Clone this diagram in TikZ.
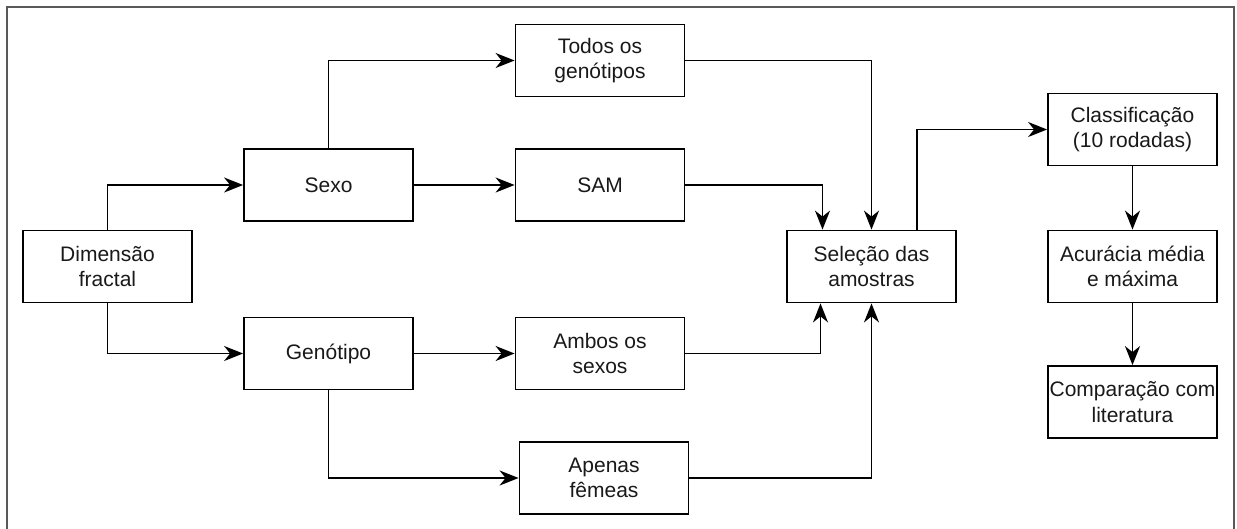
\documentclass[tikz,border=0pt]{standalone}
\usepackage{fontspec}
\setmainfont{Liberation Sans}
\usetikzlibrary{arrows.meta}
\begin{document}
\begin{tikzpicture}[x=1pt,y=-1pt,
  box/.style={draw=black, line width=1.8pt, fill=white, minimum width=169pt,
    minimum height=72pt, inner sep=1pt, align=center,
    font=\fontsize{21}{25.5}\selectfont, text=black!90},
  flow/.style={draw=black, line width=1.8pt,
    -{Stealth[length=19pt,width=15pt,inset=6pt]}}]
\useasboundingbox (0,0) rectangle (1237,528);
% outer frame
\draw[line width=1.6pt, draw=black!65] (7,7) rectangle (1234,540);

% boxes
\node[box] (dim) at (107.5,266.5) {Dimensão\\fractal};
\node[box] (sexo) at (328.5,185) {Sexo};
\node[box] (gen) at (328.5,353.5) {Genótipo};
\node[box] (todos) at (600,60.5) {Todos os\\genótipos};
\node[box] (sam) at (600,185) {SAM};
\node[box] (ambos) at (600,353.5) {Ambos os\\sexos};
\node[box] (apenas) at (604,478) {Apenas\\fêmeas};
\node[box] (sel) at (871.5,266.5) {Seleção das\\amostras};
\node[box] (cls) at (1132.5,129.5) {Classificação\\(10 rodadas)};
\node[box] (acc) at (1132.5,266.5) {Acurácia média\\e máxima};
\node[box] (cmp) at (1132.5,402) {Comparação com\\literatura};

% connectors
\draw[flow] (dim.north) |- (sexo.west);
\draw[flow] (dim.south) |- (gen.west);
\draw[flow] (sexo.north) |- (todos.west);
\draw[flow] (sexo.east) -- (sam.west);
\draw[flow] (gen.east) -- (ambos.west);
\draw[flow] (gen.south) |- (apenas.west);
\draw[flow] (todos.east) -| (sel.north);
\draw[flow] (apenas.east) -| (sel.south);
\draw[flow] (sam.east) -| ([xshift=-49pt]sel.north);
\draw[flow] (ambos.east) -| ([xshift=-51pt]sel.south);
\draw[flow] ([xshift=45.5pt]sel.north) |- (cls.west);
\draw[flow] (cls.south) -- (acc.north);
\draw[flow] (acc.south) -- (cmp.north);
\end{tikzpicture}
\end{document}
